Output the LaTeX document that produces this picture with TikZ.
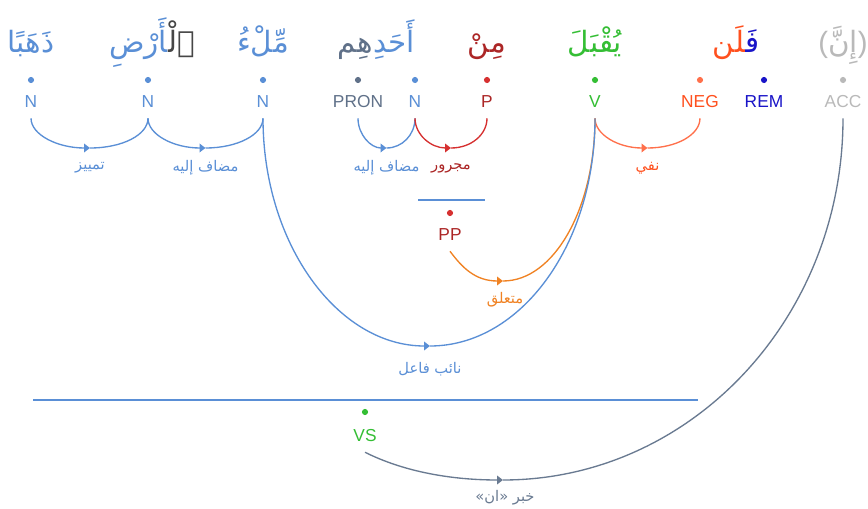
\documentclass[tikz,border=0pt]{standalone}
\usepackage{fontspec}
\setmainfont{Liberation Sans}
\newfontfamily\arabicfont[Script=Arabic]{DejaVu Sans}
\newfontfamily\arabicmono[Script=Arabic]{DejaVu Sans Mono}
\usetikzlibrary{arrows.meta}
\TeXXeTstate=1
\definecolor{cN}{RGB}{90,143,214}
\definecolor{cPron}{RGB}{96,113,137}
\definecolor{cP}{RGB}{172,38,38}
\definecolor{cParc}{RGB}{214,48,48}
\definecolor{cV}{RGB}{52,190,52}
\definecolor{cNeg}{RGB}{255,80,30}
\definecolor{cNegArc}{RGB}{255,112,75}
\definecolor{cRem}{RGB}{25,20,200}
\definecolor{cAcc}{RGB}{185,185,185}
\definecolor{cDef}{RGB}{70,70,70}
\definecolor{cLink}{RGB}{240,130,35}
\definecolor{cKhabar}{RGB}{105,122,145}
\begin{document}
\begin{tikzpicture}[x=0.75pt,y=-0.75pt,
  word/.style={font=\arabicfont\fontsize{22}{26}\selectfont, anchor=base, inner sep=0pt},
  tag/.style={font=\fontsize{13}{15}\selectfont, inner sep=0pt, text height=9.4pt, text depth=0pt, minimum height=25.5pt},
  dot/.style={circle, fill=#1, inner sep=0pt, minimum size=4.6pt},
  rel/.style={font=\arabicfont\fontsize{11}{13}\selectfont, inner sep=0pt},
  arc/.style={line width=1pt},
  tip/.style={-{Triangle[length=4.5pt,width=6.5pt]}},
  phrase/.style={draw=cN, line width=1pt}]
\fill[white] (0,0) rectangle (868,509);
\useasboundingbox (0,0) rectangle (868,509);
% words
\node[word,text=cN] (w1) at (31,53) {\beginR ذَهَبًا\endR};
\node[word,text=cDef,anchor=base west] (w2a) at (168,53) {\beginR{\arabicmono ٱ}لْ^^^^200d\endR};
\node[word,text=cN,anchor=base east] (w2b) at (w2a.base west) {\beginR ^^^^200dأَرْضِ\endR};
\node[word,text=cN] (w3) at (263,53) {\beginR مِّلْءُ\endR};
\node[word,text=cN,anchor=base west] (w4a) at (373,53) {\beginR أَحَدِ\endR};
\node[word,text=cPron,anchor=base east] (w4b) at (w4a.base west) {\beginR هِم\endR};
\node[word,text=cP] (w5) at (487,53) {\beginR مِنْ\endR};
\node[word,text=cV] (w6) at (595,53) {\beginR يُقْبَلَ\endR};
\node[word,text=cRem,anchor=base west] (w7a) at (745,53) {\beginR فَ^^^^200d\endR};
\node[word,text=cNeg,anchor=base east] (w7b) at (w7a.base west) {\beginR ^^^^200dلَن\endR};
\node[word,text=cAcc,font=\fontsize{22}{26}\selectfont] (w8) at (843,53) {(\arabicfont\beginR إِنَّ\endR\rmfamily)};
% dots
\node[dot=cN] (d1) at (31,80) {};
\node[dot=cN] (d2) at (148,80) {};
\node[dot=cN] (d3) at (263,80) {};
\node[dot=cPron] (d4) at (358,80) {};
\node[dot=cN] (d5) at (415,80) {};
\node[dot=cParc] (d6) at (487,80) {};
\node[dot=cV] (d7) at (595,80) {};
\node[dot=cNegArc] (d8) at (700,80) {};
\node[dot=cRem] (d9) at (764,80) {};
\node[dot=cAcc] (d10) at (843,80) {};
% tags
\node[tag,text=cN] (t1) at (31,101) {N};
\node[tag,text=cN] (t2) at (148,101) {N};
\node[tag,text=cN] (t3) at (263,101) {N};
\node[tag,text=cPron] (t4) at (358,101) {PRON};
\node[tag,text=cN] (t5) at (415,101) {N};
\node[tag,text=cP] (t6) at (487,101) {P};
\node[tag,text=cV] (t7) at (595,101) {V};
\node[tag,text=cNeg] (t8) at (700,101) {NEG};
\node[tag,text=cRem] (t9) at (764,101) {REM};
\node[tag,text=cAcc] (t10) at (843,101) {ACC};
% phrase PP
\coordinate (pp1) at (418,200);
\coordinate (pp2) at (485,200);
\draw[phrase] (pp1) -- (pp2);
\node[dot=cParc] (dPP) at (450,213) {};
\node[tag,text=cP] (tPP) at (450,234) {PP};
% phrase VS
\coordinate (vs1) at (33,400);
\coordinate (vs2) at (698,400);
\draw[phrase] (vs1) -- (vs2);
\node[dot=cV] (dVS) at (365,412) {};
\node[tag,text=cV] (tVS) at (365,435) {VS};
% arcs
\coordinate (m1) at (90,148);
\draw[arc,cN,tip] (t1.south) .. controls +(0,16.5) and +(-32.5,0) .. (m1);
\draw[arc,cN] (m1) .. controls +(32.5,0) and +(0,16.5) .. (t2.south);
\node[rel,text=cN] (l1) at (90,168) {\beginR تمييز\endR};
\coordinate (m2) at (205.5,148);
\draw[arc,cN,tip] (t2.south) .. controls +(0,16.5) and +(-31.7,0) .. (m2);
\draw[arc,cN] (m2) .. controls +(31.7,0) and +(0,16.5) .. (t3.south);
\node[rel,text=cN] (l2) at (205.5,168) {\beginR مضاف إليه\endR};
\coordinate (m3) at (386.5,148);
\draw[arc,cN,tip] (t4.south) .. controls +(0,16.5) and +(-15.7,0) .. (m3);
\draw[arc,cN] (m3) .. controls +(15.7,0) and +(0,16.5) .. (t5.south);
\node[rel,text=cN] (l3) at (386.5,168) {\beginR مضاف إليه\endR};
\coordinate (m4) at (451,148);
\draw[arc,cParc,tip] (t5.south) .. controls +(0,16.5) and +(-19.9,0) .. (m4);
\draw[arc,cParc] (m4) .. controls +(19.9,0) and +(0,16.5) .. (t6.south);
\node[rel,text=cP] (l4) at (451,168) {\beginR مجرور\endR};
\coordinate (m5) at (647.5,148);
\draw[arc,cNegArc,tip] (t7.south) .. controls +(0,16.5) and +(-29,0) .. (m5);
\draw[arc,cNegArc] (m5) .. controls +(29,0) and +(0,16.5) .. (t8.south);
\node[rel,text=cNeg] (l5) at (647.5,168) {\beginR نفي\endR};
\coordinate (m6) at (503,281);
\draw[arc,cLink,tip] (tPP.south) .. controls +(12,16) and +(-28,0) .. (m6);
\draw[arc,cLink] (m6) .. controls +(51,0) and +(0,90) .. (t7.south);
\node[rel,text=cLink] (l6) at (505,300) {\beginR متعلق\endR};
\coordinate (m7) at (430,346);
\draw[arc,cN,tip] (t3.south) .. controls +(0,126) and +(-92,0) .. (m7);
\draw[arc,cN] (m7) .. controls +(91,0) and +(0,126) .. (t7.south);
\node[rel,text=cN] (l7) at (430,369) {\beginR نائب فاعل\endR};
\coordinate (m8) at (503,480);
\draw[arc,cKhabar,tip] (tVS.south) .. controls +(40,20) and +(-50,0) .. (m8);
\draw[arc,cKhabar] (m8) .. controls +(188,0) and +(0,200) .. (t10.south);
\node[rel,text=cKhabar] (l8) at (505,498) {\beginR خبر «ان»\endR};
\end{tikzpicture}
\end{document}
